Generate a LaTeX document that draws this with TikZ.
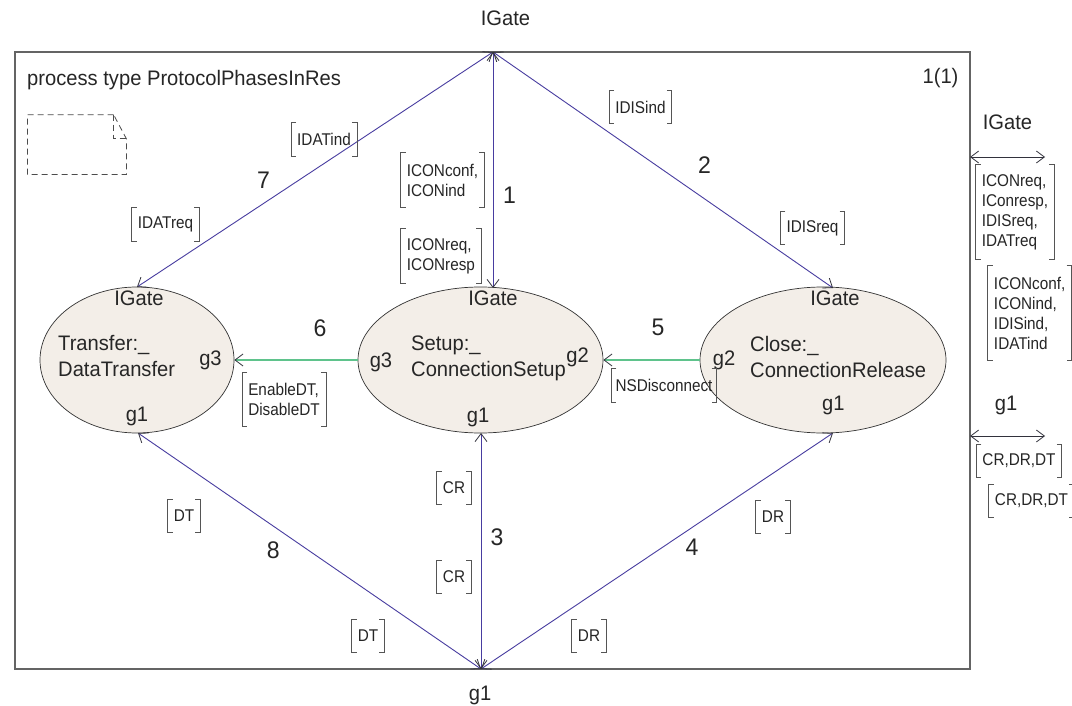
\documentclass[tikz,border=0pt]{standalone}
\usepackage{fontspec}
\setmainfont{Liberation Sans}
\newfontfamily\lblfont{Liberation Sans}[FakeStretch=0.96]
\newfontfamily\sigfont{Liberation Sans}[FakeStretch=0.9]
\usetikzlibrary{arrows.meta,shapes.geometric}
\definecolor{txt}{RGB}{38,38,38}
\definecolor{brkc}{RGB}{85,85,85}
\definecolor{chanc}{RGB}{72,61,160}
\definecolor{grn}{RGB}{95,195,140}
\definecolor{procfill}{RGB}{243,238,232}
\definecolor{frm}{RGB}{100,100,100}
\definecolor{tipc}{RGB}{50,50,60}
\tikzset{
  >={Straight Barb[length=8pt,width=12pt,color=tipc,line width=0.8pt]},
  big/.style={font=\lblfont\fontsize{21}{25}\selectfont, text=txt, inner sep=0pt},
  num/.style={font=\lblfont\fontsize{24}{28}\selectfont, text=txt, inner sep=0pt},
  sigl/.style={font=\sigfont\fontsize{17}{20}\selectfont, text=txt, align=left, inner xsep=6pt, inner ysep=0pt},
  sone/.style={sigl, minimum height=33pt},
  stwo/.style={sigl, minimum height=54pt},
  sfour/.style={sigl, minimum height=94pt},
  brk/.style={draw=brkc, line width=0.8pt},
  chan/.style={draw=chanc, line width=0.9pt},
  sroute/.style={draw=grn, line width=1.3pt},
  proc/.style={ellipse, draw=black!80, fill=procfill, line width=0.7pt, inner sep=0pt, minimum height=146pt},
  frame/.style={draw=frm, line width=1.3pt},
  note/.style={draw=black!70, line width=0.8pt, dash pattern=on 6pt off 4pt},
}
\begin{document}
\begin{tikzpicture}[x=1pt,y=-1pt]
\useasboundingbox (0,0) rectangle (1072,706);
\fill[white] (0,0) rectangle (1072,706);
% frame
\draw[frame] (15,52) rectangle (970,669);
% note symbol
\draw[note] (113.6,114.7) -- (27.5,114.7) -- (27.5,174.6) -- (126.4,174.6) -- (126.4,138.8) -- (113.6,114.7);
\draw[note] (113.6,114.7) -- (113.6,138.8) -- (126.4,138.8);
% processes
\node[proc, minimum width=194pt] (T) at (137,360) {};
\node[proc, minimum width=245pt] (S) at (480.5,360) {};
\node[proc, minimum width=246pt] (C) at (823,360) {};
% gate points
\coordinate (Ptop) at (493,52);
\coordinate (Pbot) at (481,669);
\coordinate (Tin) at (137,287);
\coordinate (Tout) at (138,433);
\coordinate (Sin) at (493,288);
\coordinate (Sout) at (481,433);
\coordinate (Cin) at (833,288);
\coordinate (Cout) at (833,433);
\coordinate (RAa) at (970,157);
\coordinate (RAb) at (1045,157);
\coordinate (RBa) at (970,436);
\coordinate (RBb) at (1045,436);
% channels
\draw[chan,<->] (Ptop) -- (Tin);
\draw[chan,<->] (Ptop) -- (Sin);
\draw[chan,<->] (Ptop) -- (Cin);
\draw[chan,<->] (Pbot) -- (Tout);
\draw[chan,<->] (Pbot) -- (Sout);
\draw[chan,<->] (Pbot) -- (Cout);
\draw[sroute,->] (S.west) -- (T.east);
\draw[sroute,->] (C.west) -- (S.east);
\draw[draw=tipc, line width=0.8pt,<->] (RAa) -- (RAb);
\draw[draw=tipc, line width=0.8pt,<->] (RBa) -- (RBb);
% labels
\node[big] (lTop) at (505.5,18.5) {IGate};
\node[big] (lBot) at (480,695) {g1};
\node[big, anchor=base west] (title) at (27,86) {process type ProtocolPhasesInRes};
\node[big] (page) at (940.5,78) {1(1)};
\node[big] (rIG) at (1007.5,122) {IGate};
\node[big] (rG1) at (1006,405) {g1};
% Transfer
\node[big] (tIG) at (139,298) {IGate};
\node[big, anchor=base west] (tN1) at (58,350) {Transfer:\_};
\node[big, anchor=base west] (tN2) at (58,376) {DataTransfer};
\node[big] (tG3) at (210.5,360) {g3};
\node[big] (tG1) at (137,416) {g1};
% Setup
\node[big] (sIG) at (493,298) {IGate};
\node[big, anchor=base west] (sN1) at (411,350) {Setup:\_};
\node[big, anchor=base west] (sN2) at (411,376) {ConnectionSetup};
\node[big] (sG3) at (381,362) {g3};
\node[big] (sG2) at (577.5,357) {g2};
\node[big] (sG1) at (478,417) {g1};
% Close
\node[big] (cIG) at (835,298) {IGate};
\node[big, anchor=base west] (cN1) at (750,351) {Close:\_};
\node[big, anchor=base west] (cN2) at (750,377) {ConnectionRelease};
\node[big] (cG2) at (724,360) {g2};
\node[big] (cG1) at (833.4,405) {g1};
% channel numbers
\node[num] (n7) at (263.5,180.5) {7};
\node[num] (n1) at (509.6,195) {1};
\node[num] (n2) at (704.6,165) {2};
\node[num] (n6) at (320,328.5) {6};
\node[num] (n5) at (658,327) {5};
\node[num] (n8) at (273.4,550.6) {8};
\node[num] (n3) at (497,537) {3};
\node[num] (n4) at (692,547.5) {4};
% signal lists
\node[sone] (sA) at (324,139.5) {IDATind};
\node[sone] (sB) at (165.5,224.5) {IDATreq};
\node[stwo] (sC) at (442.5,180) {ICONconf,\\ICONind};
\node[stwo] (sD) at (441,256) {ICONreq,\\ICONresp};
\node[sone] (sE) at (640.5,107) {IDISind};
\node[sone] (sF) at (812.5,228) {IDISreq};
\node[stwo] (sG) at (284,399.5) {EnableDT,\\DisableDT};
\node[sone, inner xsep=4pt] (sH) at (664,385.5) {NSDisconnect};
\node[sone] (sI) at (454,488) {CR};
\node[sone] (sJ) at (454,577) {CR};
\node[sone] (sK) at (184,516) {DT};
\node[sone] (sL) at (368,636) {DT};
\node[sone] (sM) at (773,517) {DR};
\node[sone] (sN) at (589,636) {DR};
\node[sfour] (sO) at (1015,212) {ICONreq,\\IConresp,\\IDISreq,\\IDATreq};
\node[sfour] (sP) at (1029.7,313) {ICONconf,\\ICONind,\\IDISind,\\IDATind};
\node[sone] (sQ) at (1019,461) {CR,DR,DT};
\node[sone] (sR) at (1031.5,501) {CR,DR,DT};
\foreach \n in {sA,sB,sC,sD,sE,sF,sG,sH,sI,sJ,sK,sL,sM,sN,sO,sP,sQ,sR}{
  \draw[brk] ([xshift=5pt]\n.north west) -- (\n.north west) -- (\n.south west) -- ([xshift=5pt]\n.south west);
  \draw[brk] ([xshift=-5pt]\n.north east) -- (\n.north east) -- (\n.south east) -- ([xshift=-5pt]\n.south east);
}
\end{tikzpicture}
\end{document}
